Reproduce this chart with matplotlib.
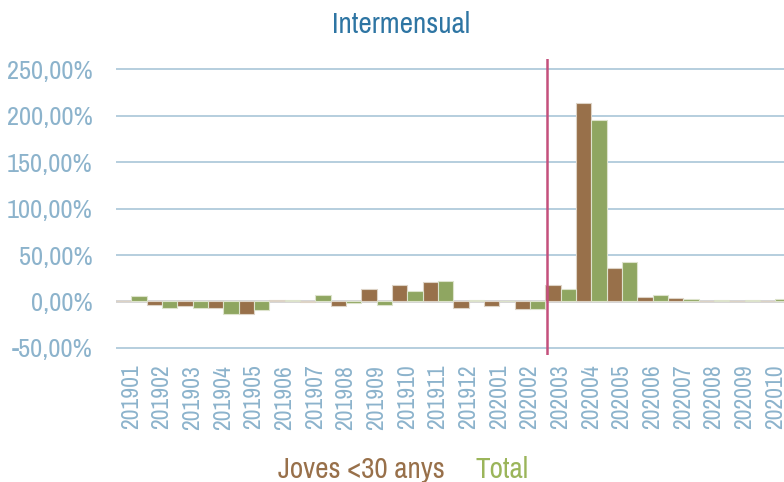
import numpy as np
import matplotlib
matplotlib.use('Agg')
from matplotlib import pyplot as plt
from matplotlib import font_manager

months = ['201901', '201902', '201903', '201904', '201905', '201906', '201907',
          '201908', '201909', '201910', '201911', '201912', '202001', '202002',
          '202003', '202004', '202005', '202006', '202007', '202008', '202009',
          '202010']
joves = [0.3, -3.8, -5.0, -7.0, -13.0, 2.0, -0.8, -4.5, 13.4, 18.0, 20.5,
         -6.5, -4.5, -8.5, 17.6, 214.0, 35.8, 5.0, 3.5, 0.2, 0.4, 0.2]
total = [5.4, -6.5, -7.0, -14.0, -9.7, 2.0, 7.2, -2.0, -4.0, 11.0, 22.0,
         2.0, 0.3, -8.5, 13.3, 195.0, 42.6, 6.7, 2.4, 2.0, 1.8, 2.5]
series_names = ['Joves <30 anys', 'Total']
yticks = [-50, 0, 50, 100, 150, 200, 250]

brown = '#98704a'
green = '#8fa661'
tickblue = '#8cb3cc'

# narrow sans serif like the original, whatever is installed
have = set(f.name for f in font_manager.fontManager.ttflist)
wanted = ['Liberation Sans Narrow', 'Arial Narrow', 'Archivo Narrow', 'PT Sans Narrow',
	'Roboto Condensed', 'Pragati Narrow', 'Fira Sans Condensed', 'IBM Plex Sans Condensed',
	'Encode Sans Condensed', 'Asap Condensed', 'Sofia Sans Condensed', 'Liberation Sans']
fam = [f for f in wanted if f in have][:1] + ['DejaVu Sans']
plt.rcParams['font.family'] = fam

fig = plt.figure(figsize=(7.84, 4.82), dpi=100)
ax = fig.add_axes([116/784, 1-355/482, 668/784, 296/482])

x = np.arange(len(months))
for yv in yticks:
	if yv == 0:
		ax.axhline(yv, color='#d2d2d2', lw=2, zorder=1)
	else:
		ax.axhline(yv, color='#a9c6d8', lw=1.2, zorder=0)

ax.bar(x-0.25, joves, width=0.5, color=brown, edgecolor='#ddd3c6', linewidth=0.8, zorder=2)
ax.bar(x+0.25, total, width=0.5, color=green, edgecolor='#dde3cc', linewidth=0.8, zorder=2)

# start of the covid period
ax.axvline(13.55, color='#c4507c', lw=1.8, zorder=3)

ax.set_xlim(-0.5, 21.28)
ax.set_ylim(-57.6, 261)
ax.set_xticks(x)
ax.set_xticklabels(months, rotation=90, fontsize=17, color=tickblue)
ax.set_yticks(yticks)
ax.set_yticklabels(['%d,00%%' % v for v in yticks], fontsize=19, color=tickblue)
ax.tick_params(length=0)
ax.tick_params(axis='y', pad=17)
ax.tick_params(axis='x', pad=7)
for s in ax.spines.values():
	s.set_visible(False)

fig.text(401/784, 1-33/482, 'Intermensual', ha='center', va='baseline',
	fontsize=21, color='#2e75a3')
fig.text(445/784, 1-478/482, series_names[0], ha='right', va='baseline',
	fontsize=21, color=brown)
fig.text(475/784, 1-478/482, series_names[1], ha='left', va='baseline',
	fontsize=21, color='#9bb55a')

plt.savefig('out.png', dpi=100)
